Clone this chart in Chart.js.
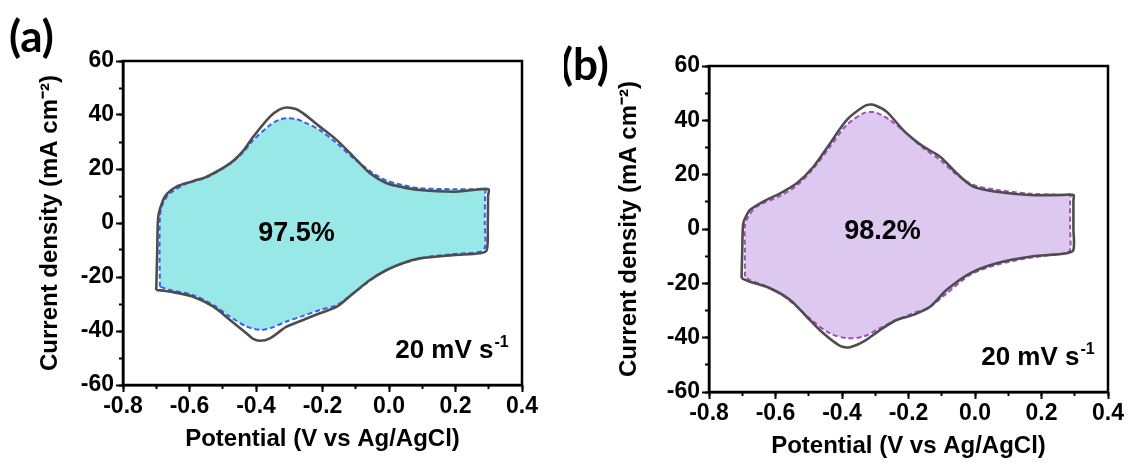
<!DOCTYPE html>
<html>
<head>
<meta charset="utf-8">
<script src="https://cdn.jsdelivr.net/npm/chart.js@4"></script>
<style>
  body { margin: 0; background: #fff; width: 1128px; height: 466px; overflow: hidden; position: relative; }
  .panel { position: absolute; top: 0; width: 564px; height: 466px; }
</style>
</head>
<body>
<div class="panel" style="left:0"><canvas id="chartA"></canvas></div>
<div class="panel" style="left:564px"><canvas id="chartB"></canvas></div>
<script>
// panel (a): solid = first cycle, dashed = after cycling
var aSolidV = [-0.700, -0.697, -0.694, -0.684, -0.670, -0.639, -0.590, -0.548, -0.478, -0.440, -0.408, -0.358, -0.330, -0.308, -0.280, -0.258, -0.208, -0.157, -0.107, -0.057, -0.007, 0.043, 0.093, 0.193, 0.254, 0.299, 0.298, 0.297, 0.294, 0.274, 0.193, 0.093, 0.043, -0.007, -0.057, -0.107, -0.157, -0.208, -0.258, -0.308, -0.358, -0.388, -0.410, -0.428, -0.478, -0.528, -0.589, -0.659, -0.700];
var aSolidJ = [-24.8, -10, 2.3, 7, 10.5, 13.5, 15.5, 17.2, 22.1, 26.5, 32, 39.4, 42, 42.8, 42.2, 40.6, 35.7, 30.7, 24.6, 18.4, 14.7, 13.2, 12.2, 11.6, 12.2, 12.5, 10, 0, -10, -11.2, -11.9, -13.1, -14.8, -17.4, -21.1, -26, -31, -33.4, -35.9, -38.4, -42.7, -43.6, -42.8, -40.9, -35.9, -31, -27.3, -25.4, -24.8];
var aDashV = [-0.689, -0.690, -0.689, -0.684, -0.672, -0.659, -0.608, -0.548, -0.478, -0.440, -0.408, -0.358, -0.330, -0.308, -0.280, -0.258, -0.208, -0.157, -0.107, -0.047, -0.007, 0.043, 0.093, 0.193, 0.260, 0.289, 0.289, 0.288, 0.289, 0.274, 0.193, 0.093, -0.007, -0.057, -0.107, -0.157, -0.208, -0.258, -0.308, -0.358, -0.388, -0.428, -0.478, -0.528, -0.589, -0.659, -0.689];
var aDashJ = [-23.6, -10, 2.3, 6, 9, 11, 14.7, 16.9, 22, 26, 30.7, 36.3, 38.2, 38.8, 38.5, 37.5, 34.4, 29.5, 24, 18.4, 15.7, 14, 12.9, 12.5, 12.5, 12.5, 10.5, 0, -8.8, -10.6, -11.5, -13.1, -17.4, -21.3, -26, -30.4, -32.2, -34.4, -36.5, -39, -39.6, -38.4, -34.7, -30.4, -26.7, -24.8, -23.6];

// panel (b)
var bSolidV = [-0.702, -0.700, -0.697, -0.687, -0.677, -0.637, -0.586, -0.536, -0.486, -0.436, -0.386, -0.336, -0.316, -0.296, -0.266, -0.216, -0.185, -0.155, -0.105, -0.055, -0.005, 0.065, 0.165, 0.260, 0.296, 0.296, 0.296, 0.296, 0.276, 0.165, 0.065, -0.015, -0.085, -0.135, -0.186, -0.236, -0.286, -0.336, -0.376, -0.406, -0.456, -0.506, -0.556, -0.617, -0.677, -0.702];
var bSolidJ = [-18.1, -8, 2.1, 5, 7, 10.1, 13.1, 16.8, 22.9, 31.5, 40.1, 45, 45.8, 45.3, 43.2, 36.4, 33, 30.3, 26.6, 20.5, 15.6, 13.7, 12.5, 12.5, 12.5, 10.5, 0, -7.7, -8.9, -10.2, -12.6, -16.3, -22.4, -28.6, -31.6, -33.5, -37.2, -41.5, -43.5, -43, -38.4, -32.3, -26.1, -21.8, -19.4, -18.1];
var bDashV = [-0.692, -0.692, -0.692, -0.682, -0.657, -0.586, -0.536, -0.486, -0.436, -0.386, -0.336, -0.316, -0.296, -0.256, -0.206, -0.155, -0.105, -0.055, -0.005, 0.065, 0.165, 0.250, 0.286, 0.286, 0.286, 0.286, 0.271, 0.165, 0.065, -0.015, -0.085, -0.135, -0.186, -0.236, -0.286, -0.336, -0.386, -0.436, -0.486, -0.536, -0.586, -0.637, -0.677, -0.692];
var bDashJ = [-17.5, -8, 1.3, 4.5, 8.2, 12.2, 16, 22.3, 30.3, 38.3, 42.6, 43.1, 42.8, 40.1, 35.2, 29.7, 25.4, 20, 16.2, 14.4, 13, 12.6, 12.5, 10.5, 0, -7.7, -8.9, -10.6, -13.2, -16.9, -23.7, -28.6, -31, -33.5, -36.5, -39.6, -40.2, -38.4, -34.1, -28.6, -23.7, -20.6, -18.8, -17.5];

var panelLabels = ['(a)', '(b)'];
var retention = ['97.5%', '98.2%'];
var scanRate = '20 mV s';
var xTitle = 'Potential (V vs Ag/AgCl)';
var yTitle = 'Current density (mA cm\u207B\u00B2)';

var FONT = '"Liberation Sans", Arial, sans-serif';

function pts(v, j) {
  return v.map(function (x, i) { return { x: x, y: j[i] }; });
}

var extras = {
  id: 'extras',
  afterDatasetsDraw: function (chart, args, o) {
    var ctx = chart.ctx, a = chart.chartArea, x = chart.scales.x, y = chart.scales.y;
    ctx.save();
    ctx.strokeStyle = '#000';
    ctx.lineWidth = 2.5;
    ctx.strokeRect(a.left, a.top, a.right - a.left, a.bottom - a.top);
    ctx.fillStyle = '#000';
    ctx.textBaseline = 'middle';
    ctx.textAlign = 'center';
    ctx.font = 'bold 27px ' + FONT;
    ctx.fillText(o.pct, x.getPixelForValue(-0.278), y.getPixelForValue(o.pctY));
    // scan rate with superscript
    var sx = x.getPixelForValue(0.36), sy = y.getPixelForValue(-50);
    ctx.textBaseline = 'alphabetic';
    ctx.textAlign = 'right';
    ctx.font = 'bold 16px ' + FONT;
    var supW = ctx.measureText('-1').width;
    ctx.fillText('-1', sx, sy - 11);
    ctx.font = 'bold 26px ' + FONT;
    ctx.fillText(scanRate, sx - supW - 1, sy);
    // panel label
    ctx.textAlign = 'left';
    ctx.textBaseline = 'middle';
    ctx.font = 'bold 44px Lato, "Open Sans", sans-serif';
    ctx.fillText(o.label, o.labelX, o.labelY);
    ctx.restore();
  }
};

function makePanel(id, solid, dash, fillColor, dashColor, box, label, pct) {
  return new Chart(document.getElementById(id), {
    type: 'scatter',
    data: {
      datasets: [
        { data: solid, showLine: true, borderColor: '#4d4d4d', borderWidth: 2.6, pointRadius: 0, tension: 0.3, fill: false },
        { data: dash, showLine: true, borderColor: dashColor, borderWidth: 2, borderDash: [5, 3], pointRadius: 0, tension: 0.3, fill: 'shape', backgroundColor: fillColor }
      ]
    },
    options: {
      responsive: true,
      maintainAspectRatio: false,
      animation: false,
      layout: { padding: { left: 0, top: box.top, right: box.right, bottom: 0 } },
      plugins: {
        legend: { display: false },
        tooltip: { enabled: false },
        extras: { label: label, labelX: box.labelX, labelY: box.labelY, pct: pct, pctY: box.pctY }
      },
      scales: {
        xm: {
          type: 'linear', position: 'bottom', weight: 0, min: -0.8, max: 0.4,
          ticks: { stepSize: 0.1, display: false },
          grid: { drawOnChartArea: false, tickLength: 4, tickWidth: 2, tickColor: '#000' },
          border: { display: false },
          afterFit: function (s) { s.height = 0; }
        },
        ym: {
          type: 'linear', position: 'left', weight: 0, min: -60, max: 60,
          ticks: { stepSize: 10, display: false },
          grid: { drawOnChartArea: false, tickLength: 4, tickWidth: 2, tickColor: '#000' },
          border: { display: false },
          afterFit: function (s) { s.width = 0; }
        },
        x: {
          type: 'linear', position: 'bottom', weight: 1, min: -0.8, max: 0.4,
          ticks: { stepSize: 0.2, color: '#000', font: { family: FONT, size: 23, weight: 'bold' }, padding: 1,
            callback: function (v) { return v.toFixed(1); } },
          grid: { drawOnChartArea: false, tickLength: 7, tickWidth: 2, tickColor: '#000' },
          border: { display: true, color: '#000', width: 2.5 },
          title: { display: true, text: xTitle, color: '#000', font: { family: FONT, size: 24, weight: 'bold' },
            padding: { top: 0, bottom: box.xTitlePad } },
          afterFit: function (s) { s.height = box.xAxisH; }
        },
        y: {
          type: 'linear', position: 'left', weight: 1, min: -60, max: 60,
          ticks: { stepSize: 20, color: '#000', font: { family: FONT, size: 23, weight: 'bold' }, padding: 2 },
          grid: { drawOnChartArea: false, tickLength: 7, tickWidth: 2, tickColor: '#000' },
          border: { display: true, color: '#000', width: 2.5 },
          title: { display: true, text: yTitle, color: '#000', font: { family: FONT, size: 24, weight: 'bold' },
            padding: { top: box.yTitlePad, bottom: 0 } },
          afterFit: function (s) { s.width = box.yAxisW; }
        }
      }
    },
    plugins: [extras]
  });
}

makePanel('chartA', pts(aSolidV, aSolidJ), pts(aDashV, aDashJ), '#98E8E8', '#3F5CF2',
  { top: 61, right: 42, yAxisW: 123, xAxisH: 81, xTitlePad: 12, yTitlePad: 36, labelX: 9, labelY: 38, pctY: -3.8 },
  panelLabels[0], retention[0]);
makePanel('chartB', pts(bSolidV, bSolidJ), pts(bDashV, bDashJ), '#DDC8EF', '#A24DB8',
  { top: 66, right: 20, yAxisW: 145, xAxisH: 74, xTitlePad: 5, yTitlePad: 51, labelX: -3, labelY: 66, pctY: -1 },
  panelLabels[1], retention[1]);
</script>
</body>
</html>
